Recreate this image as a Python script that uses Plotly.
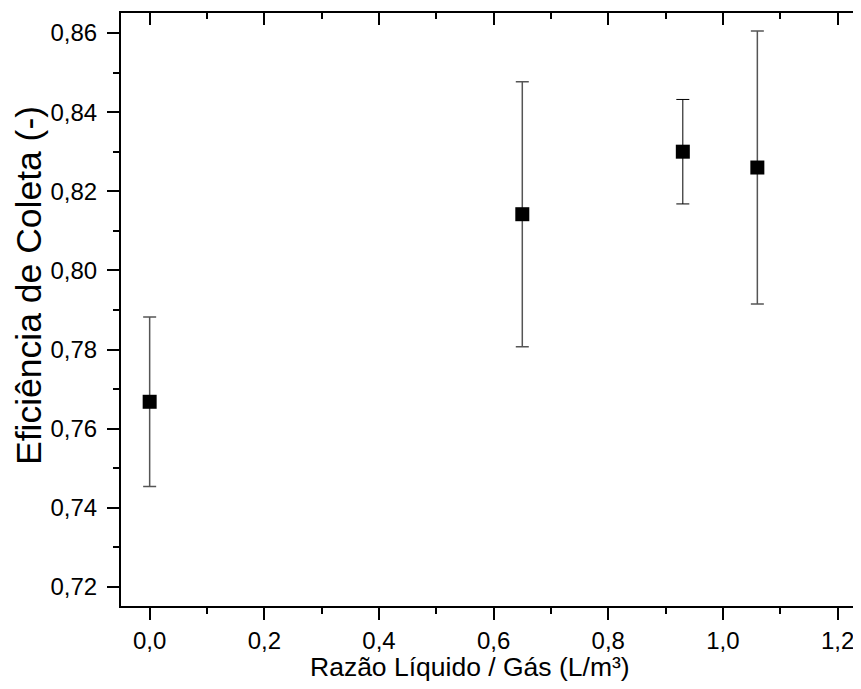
import plotly.graph_objects as go

# Data
razao = [0.0, 0.65, 0.93, 1.06]
eficiencia = [0.7668, 0.8142, 0.8300, 0.8260]
erro = [0.0214, 0.0335, 0.0132, 0.0345]

x_title = "Razão Líquido / Gás (L/m³)"
y_title = "Eficiência de Coleta (-)"

x_range = [-0.05, 1.2408]
y_range = [0.71519, 0.86505]

FONT = "Liberation Sans, Arial, sans-serif"

fig = go.Figure()
grey_idx = [0, 1, 3]
black_idx = [2]
fig.add_trace(go.Scatter(
    x=[razao[i] for i in grey_idx], y=[eficiencia[i] for i in grey_idx],
    mode="markers",
    marker=dict(symbol="square", size=14, color="black"),
    error_y=dict(type="data", array=[erro[i] for i in grey_idx], visible=True,
                 color="#555", thickness=1.5, width=6.5),
    showlegend=False, hoverinfo="x+y",
))
fig.add_trace(go.Scatter(
    x=[razao[i] for i in black_idx], y=[eficiencia[i] for i in black_idx],
    mode="markers",
    marker=dict(symbol="square", size=14, color="black"),
    error_y=dict(type="data", array=[erro[i] for i in black_idx], visible=True,
                 color="black", thickness=1, width=6.5),
    showlegend=False, hoverinfo="x+y",
))
# invisible trace so the mirrored (top/right) axes get drawn
fig.add_trace(go.Scatter(
    x=razao, y=eficiencia, mode="markers", xaxis="x2", yaxis="y2",
    marker=dict(opacity=0), showlegend=False, hoverinfo="skip",
))

axis_common = dict(
    showgrid=False, zeroline=False, showline=True, linecolor="black",
    linewidth=2, tickcolor="black", tickwidth=2,
    tickfont=dict(family=FONT, size=24, color="black"),
)

# the page body adds an 8px offset, so the figure is sized/placed to compensate
fig.update_layout(
    width=853, height=681,
    margin=dict(l=113, r=0, t=5, b=83),
    plot_bgcolor="white", paper_bgcolor="white",
    separators=",.",
    font=dict(family=FONT, color="black"),
    xaxis=dict(
        **axis_common, range=x_range, tick0=0, dtick=0.2, tickformat=".1f",
        ticks="outside", ticklen=12,
        minor=dict(dtick=0.1, ticks="outside", ticklen=6, tickwidth=2,
                   tickcolor="black"),
        ticklabelstandoff=0,
    ),
    yaxis=dict(
        **axis_common, range=y_range, tick0=0.72, dtick=0.02, tickformat=".2f",
        ticks="outside", ticklen=12,
        minor=dict(dtick=0.01, ticks="outside", ticklen=6, tickwidth=2,
                   tickcolor="black"),
        ticklabelstandoff=5,
    ),
    xaxis2=dict(
        overlaying="x", side="top", anchor="y", range=x_range,
        showgrid=False, zeroline=False, showline=True, linecolor="black",
        linewidth=2, ticks="inside", ticklen=12, tickwidth=2,
        tickcolor="black", tick0=0, dtick=0.2, showticklabels=False,
        minor=dict(dtick=0.1, ticks="inside", ticklen=6, tickwidth=2,
                   tickcolor="black"),
    ),
    yaxis2=dict(
        overlaying="y", side="right", anchor="x", range=y_range,
        showgrid=False, zeroline=False, showline=False,
        ticks="inside", ticklen=7, tickwidth=2, tickcolor="black",
        tick0=0.72, dtick=0.02, showticklabels=False,
        minor=dict(dtick=0.01, ticks="inside", ticklen=1, tickwidth=2,
                   tickcolor="black"),
    ),
    annotations=[
        dict(text=x_title, xref="paper", yref="paper", x=0.4716, y=0,
             yshift=-61, xanchor="center", yanchor="middle", showarrow=False,
             font=dict(family=FONT, size=26.5, color="black")),
        dict(text=y_title, xref="paper", yref="paper", x=0, y=0.5396,
             xshift=-92, xanchor="center", yanchor="middle", showarrow=False,
             textangle=-90,
             font=dict(family=FONT, size=35.5, color="black")),
    ],
)

fig.write_html("out.html")
